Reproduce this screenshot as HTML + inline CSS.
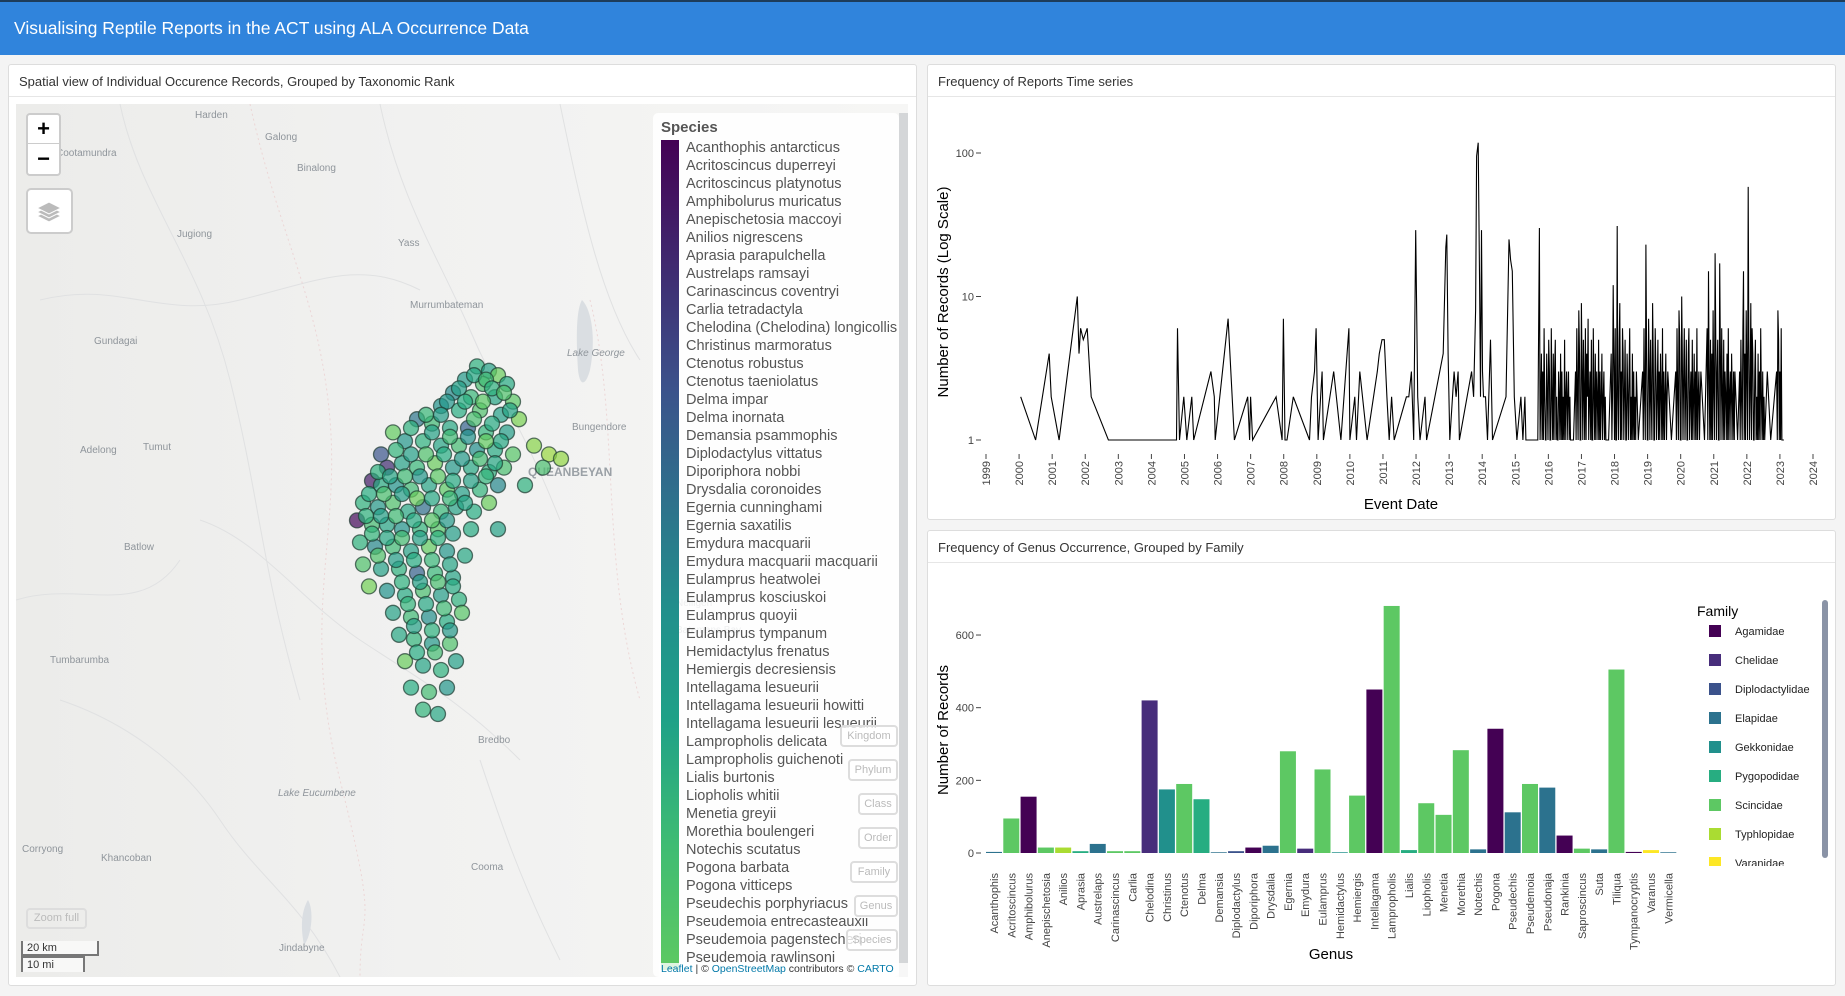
<!DOCTYPE html>
<html><head><meta charset="utf-8">
<style>
*{box-sizing:border-box;margin:0;padding:0}
body{width:1845px;height:996px;background:#f4f4f4;font-family:"Liberation Sans",sans-serif;position:relative;overflow:hidden}
.abs{position:absolute}
.panel{position:absolute;background:#fff;border:1px solid #ddd;border-radius:3px}
.ptitle{position:absolute;left:10px;top:9px;font-size:13px;color:#333}
.pline{position:absolute;left:0;right:0;top:31px;border-top:1px solid #e6e6e6}
.lg-item{position:absolute;left:686px;font-size:14.5px;color:#555;white-space:nowrap}
.rbtn{position:absolute;height:22px;border:2px solid #ddd;border-radius:4px;background:rgba(255,255,255,.8);color:#bbb;font-size:11px;text-align:center;line-height:18px}
</style></head><body>
<div class="abs" style="left:0;top:0;width:1845px;height:55px;background:#3084dc;border-top:2px solid #1d3c5a">
<div class="abs" style="left:14px;top:16px;color:#fff;font-size:17.5px">Visualising Reptile Reports in the ACT using ALA Occurrence Data</div></div>

<div class="panel" style="left:8px;top:64px;width:909px;height:922px">
<div class="ptitle">Spatial view of Individual Occurence Records, Grouped by Taxonomic Rank</div><div class="pline"></div></div>

<svg class="abs" style="left:16px;top:104px" width="892" height="873" viewBox="16 104 892 873">
<defs><linearGradient id="bgg" x1="0" x2="1" y1="0" y2="0"><stop offset="0" stop-color="#ececea"/><stop offset="0.45" stop-color="#f1f1f0"/><stop offset="1" stop-color="#f6f6f5"/></linearGradient></defs>
<rect x="16" y="104" width="892" height="873" fill="url(#bgg)"/>
<g fill="none" stroke="#e0e1e2" stroke-width="1">
<path d="M40 300 C120 280 160 320 240 300 S360 260 420 290"/><path d="M120 104 C140 200 200 260 230 380 S260 560 300 700"/>
<path d="M380 104 C400 200 440 260 470 330 S520 420 560 520"/><path d="M200 520 C260 540 300 600 360 640 S460 700 520 760"/>
<path d="M60 700 C120 720 180 760 220 820 S300 900 340 977"/><path d="M560 104 C580 200 600 300 640 360"/>
<path d="M16 600 C80 580 140 620 180 560"/><path d="M480 760 C500 820 520 880 560 960"/>
</g>
<g fill="none" stroke="#ecd6d6" stroke-width="1" stroke-dasharray="2,3"><path d="M250 104 C280 240 320 300 330 420 S300 620 340 780 S360 900 360 977"/><path d="M590 300 C620 420 600 560 640 700"/></g>
<path d="M582 300 C592 310 596 340 590 370 C586 385 580 388 578 370 C576 340 576 310 582 300Z" fill="#dadee2"/>
<path d="M308 900 C314 910 312 935 304 945 C300 925 302 910 308 900Z" fill="#dadee2"/>
<g font-size="10" fill="#8f959b" font-family="Liberation Sans,sans-serif">
<text x="195" y="118">Harden</text>
<text x="265" y="140">Galong</text><text x="56" y="156">Cootamundra</text><text x="297" y="171">Binalong</text>
<text x="177" y="237">Jugiong</text><text x="398" y="246">Yass</text><text x="410" y="308">Murrumbateman</text>
<text x="94" y="344">Gundagai</text><text x="567" y="356" font-style="italic">Lake George</text><text x="572" y="430">Bungendore</text>
<text x="80" y="453">Adelong</text><text x="143" y="450">Tumut</text><text x="124" y="550">Batlow</text>
<text x="50" y="663">Tumbarumba</text><text x="478" y="743">Bredbo</text><text x="278" y="796" font-style="italic">Lake Eucumbene</text>
<text x="22" y="852">Corryong</text><text x="101" y="861">Khancoban</text><text x="471" y="870">Cooma</text><text x="279" y="951">Jindabyne</text>
<text x="676" y="606">Nelligen</text><text x="676" y="633">Batemans Bay</text>
<text x="528" y="476" font-weight="bold" font-size="12" fill="#9aa0a6">QUEANBEYAN</text></g>
<g id="pts"></g>
</svg>

<div class="abs" style="left:26px;top:113px;width:35px;height:63px;background:#fff;border:2px solid #ccc;border-radius:4px">
<div class="abs" style="left:0;top:0;width:31px;height:29px;border-bottom:1px solid #ccc;text-align:center;font-size:22px;line-height:28px;font-weight:bold;color:#000">+</div>
<div class="abs" style="left:0;top:30px;width:31px;height:29px;text-align:center;font-size:22px;line-height:27px;font-weight:bold;color:#000">−</div></div>
<div class="abs" style="left:26px;top:188px;width:47px;height:46px;background:#fff;border:2px solid #ccc;border-radius:5px">
<svg width="43" height="42"><g fill="#bbb" stroke="#fff" stroke-width="1"><path d="M9 26 L21 32 L33 26 L21 20Z"/><path d="M9 22 L21 28 L33 22 L21 16Z"/><path d="M9 18 L21 24 L33 18 L21 12Z"/></g></svg></div>
<div class="abs" style="left:26px;top:908px;width:61px;height:21px;border:2px solid #ddd;border-radius:4px;color:#bbb;font-size:11px;text-align:center;line-height:17px">Zoom full</div>
<div class="abs" style="left:21px;top:941px;font-size:11px;color:#333">
<div style="width:78px;height:15px;border:2px solid #777;border-top:none;background:rgba(255,255,255,.6);padding-left:4px;line-height:14px">20 km</div>
<div style="width:64px;height:16px;border:2px solid #777;border-bottom:none;background:rgba(255,255,255,.6);padding-left:4px;line-height:15px">10 mi</div></div>

<div class="abs" style="left:653px;top:113px;width:246px;height:864px;background:rgba(255,255,255,.85);border-radius:5px;overflow:hidden"></div>
<div class="abs" style="left:661px;top:119px;font-size:15px;font-weight:bold;color:#555">Species</div>
<div class="abs" style="left:661px;top:140px;width:18px;height:830px;background:linear-gradient(#440154,#3b528b 30%,#21908c 57%,#1fa187 70%,#3fbc73 85%,#5ec962)"></div>
<div id="spl"></div>
<div class="abs" style="left:899px;top:113px;width:9px;height:864px;background:#d4d6d8"></div>
<div id="rank"></div>
<div class="abs" style="left:659px;top:963px;width:249px;height:14px;background:rgba(255,255,255,.8);font-size:10.5px;color:#333;padding-left:2px;white-space:nowrap"><span style="color:#0078a8">Leaflet</span> | © <span style="color:#0078a8">OpenStreetMap</span> contributors © <span style="color:#0078a8">CARTO</span></div>

<div class="panel" style="left:927px;top:64px;width:909px;height:456px">
<div class="ptitle">Frequency of Reports Time series</div><div class="pline"></div></div>
<div class="panel" style="left:927px;top:530px;width:909px;height:456px">
<div class="ptitle">Frequency of Genus Occurrence, Grouped by Family</div><div class="pline"></div></div>

<svg class="abs" style="left:0;top:0" width="1845" height="996" font-family="Liberation Sans,sans-serif">
<g id="ts"></g><g id="bars"></g><g id="leg"></g>
<rect x="1822" y="600" width="6" height="258" rx="3" fill="#8a93a6"/>
</svg>

<script>
// ---- map data ----
const ptLon=[149.18,149.22,149.25,149.14,149.20,149.28,149.10,149.16,149.24,149.30,149.06,149.12,149.19,149.26,149.32,148.98,149.03,149.09,149.15,149.21,149.28,148.90,148.94,149.00,149.06,149.12,149.18,149.24,149.30,148.86,148.88,148.93,148.98,149.04,149.10,149.16,149.22,149.27,148.83,148.86,148.91,148.96,149.02,149.08,149.13,149.19,149.25,148.80,148.85,148.90,148.95,149.00,149.06,149.11,149.17,149.22,148.78,148.83,148.88,148.93,148.99,149.05,149.10,149.16,148.79,148.84,148.90,148.96,149.02,149.08,149.14,148.80,148.86,148.92,148.98,149.04,149.10,148.82,148.88,148.94,149.00,149.06,149.12,148.90,148.96,149.02,149.08,149.13,148.92,148.97,149.03,149.09,148.94,149.00,149.06,149.11,148.96,149.02,149.08,149.00,149.05,149.37,149.42,149.46,149.40,149.34,149.25,
149.17,149.21,149.12,149.23,149.27,149.08,149.14,149.20,149.29,149.01,149.06,149.17,149.23,148.96,149.03,149.09,149.15,149.21,149.26,148.91,148.96,149.01,149.07,149.13,149.19,149.24,148.85,148.89,148.94,148.99,149.05,149.10,149.16,149.21,148.82,148.87,148.93,148.98,149.03,149.09,149.14,148.81,148.86,148.91,148.97,149.03,149.08,148.83,148.88,148.93,148.99,149.05,148.85,148.91,148.97,149.03,149.09,148.93,148.99,149.05,149.10,148.95,149.01,149.07,148.97,149.03,149.09,148.98,149.04];
const ptLat=[-35.13,-35.14,-35.15,-35.16,-35.17,-35.17,-35.19,-35.20,-35.20,-35.21,-35.22,-35.23,-35.23,-35.24,-35.25,-35.25,-35.26,-35.27,-35.27,-35.28,-35.28,-35.28,-35.30,-35.30,-35.31,-35.31,-35.32,-35.32,-35.33,-35.33,-35.36,-35.35,-35.36,-35.35,-35.36,-35.36,-35.37,-35.36,-35.39,-35.40,-35.40,-35.41,-35.40,-35.41,-35.42,-35.41,-35.40,-35.44,-35.45,-35.44,-35.46,-35.45,-35.46,-35.45,-35.46,-35.44,-35.48,-35.49,-35.49,-35.50,-35.50,-35.50,-35.51,-35.50,-35.53,-35.54,-35.54,-35.55,-35.54,-35.55,-35.56,-35.58,-35.59,-35.59,-35.60,-35.60,-35.61,-35.63,-35.64,-35.65,-35.64,-35.65,-35.66,-35.69,-35.70,-35.70,-35.71,-35.69,-35.74,-35.75,-35.76,-35.76,-35.80,-35.81,-35.82,-35.80,-35.86,-35.87,-35.86,-35.91,-35.92,-35.31,-35.33,-35.34,-35.36,-35.40,-35.50,
-35.15,-35.16,-35.18,-35.18,-35.19,-35.21,-35.21,-35.21,-35.23,-35.24,-35.24,-35.25,-35.26,-35.27,-35.28,-35.29,-35.29,-35.30,-35.30,-35.32,-35.33,-35.33,-35.33,-35.34,-35.34,-35.35,-35.37,-35.38,-35.38,-35.38,-35.38,-35.39,-35.39,-35.38,-35.42,-35.42,-35.42,-35.43,-35.43,-35.43,-35.44,-35.47,-35.47,-35.47,-35.48,-35.48,-35.48,-35.51,-35.52,-35.52,-35.52,-35.52,-35.56,-35.57,-35.57,-35.57,-35.58,-35.62,-35.62,-35.62,-35.63,-35.67,-35.67,-35.68,-35.72,-35.73,-35.73,-35.78,-35.78];
const ptSp=[30,25,40,22,35,28,18,32,26,38,20,29,36,24,42,15,33,27,12,31,23,39,21,30,26,34,19,28,37,10,5,25,32,40,22,27,30,35,3,28,20,33,26,38,24,31,18,30,22,36,27,14,32,25,29,40,1,34,26,20,31,37,23,28,30,18,33,25,39,21,27,36,24,30,12,32,26,41,20,28,35,23,30,25,33,19,29,37,27,31,22,36,40,26,30,24,29,34,21,31,27,44,46,45,35,30,25,
27,33,24,30,36,21,29,38,26,32,23,35,28,30,25,33,20,39,27,31,24,36,29,22,34,27,30,26,33,21,38,28,25,31,29,35,23,40,27,32,26,30,24,33,28,37,22,31,27,34,25,30,36,23,29,32,26,30,24,35,28,31,27,33,25,30,22,29,34];
const speciesNames=["Acanthophis antarcticus","Acritoscincus duperreyi","Acritoscincus platynotus","Amphibolurus muricatus","Anepischetosia maccoyi","Anilios nigrescens","Aprasia parapulchella","Austrelaps ramsayi","Carinascincus coventryi","Carlia tetradactyla","Chelodina (Chelodina) longicollis","Christinus marmoratus","Ctenotus robustus","Ctenotus taeniolatus","Delma impar","Delma inornata","Demansia psammophis","Diplodactylus vittatus","Diporiphora nobbi","Drysdalia coronoides","Egernia cunninghami","Egernia saxatilis","Emydura macquarii","Emydura macquarii macquarii","Eulamprus heatwolei","Eulamprus kosciuskoi","Eulamprus quoyii","Eulamprus tympanum","Hemidactylus frenatus","Hemiergis decresiensis","Intellagama lesueurii","Intellagama lesueurii howitti","Intellagama lesueurii lesueurii","Lampropholis delicata","Lampropholis guichenoti","Lialis burtonis","Liopholis whitii","Menetia greyii","Morethia boulengeri","Notechis scutatus","Pogona barbata","Pogona vitticeps","Pseudechis porphyriacus","Pseudemoia entrecasteauxii","Pseudemoia pagenstecheri","Pseudemoia rawlinsoni"];
const rankButtons=["Kingdom","Phylum","Class","Order","Family","Genus","Species"];

// ---- time series data ----
const tsDates=[2000.05,2000.50,2000.91,2000.97,2001.21,2001.76,2001.81,2001.86,2001.94,2002.06,2002.18,2002.70,2004.76,2004.79,2004.85,2004.98,2005.07,2005.22,2005.28,2005.80,2005.90,2005.93,2006.32,2006.51,2006.91,2006.97,2007.00,2007.06,2007.77,2007.95,2007.99,2008.04,2008.10,2008.29,2008.78,2008.84,2008.93,2008.98,2009.04,2009.16,2009.20,2009.51,2009.73,2009.97,2010.00,2010.15,2010.20,2010.30,2010.52,2010.83,2010.89,2010.97,2011.04,2011.12,2011.19,2011.26,2011.34,2011.71,2011.78,2011.86,2011.93,2011.99,2012.05,2012.12,2012.27,2012.32,2012.82,2012.90,2012.93,2012.97,2013.02,2013.15,2013.21,2013.27,2013.31,2013.68,2013.74,2013.80,2013.83,2013.88,2013.92,2013.95,2013.98,2014.01,2014.04,2014.10,2014.16,2014.25,2014.31,2014.72,2014.81,2014.86,2014.91,2014.97,2015.05,2015.17,2015.23,2015.29,2015.32,2015.68,
2015.73,2015.75,2015.77,2015.79,2015.81,2015.83,2015.85,2015.87,2015.89,2015.91,2015.93,2015.95,2015.97,2015.99,2016.01,2016.03,2016.05,2016.07,2016.09,2016.11,2016.13,2016.15,2016.17,2016.19,2016.21,2016.23,2016.25,2016.27,2016.29,2016.31,2016.33,2016.35,2016.37,2016.39,2016.41,2016.43,2016.45,2016.47,2016.49,2016.51,2016.53,2016.55,2016.57,2016.59,2016.61,2016.63,2016.65,2016.67,2016.70,2016.76,
2016.82,2016.84,2016.86,2016.88,2016.90,2016.92,2016.94,2016.96,2016.98,2017.00,2017.02,2017.04,2017.06,2017.08,2017.10,2017.12,2017.14,2017.16,2017.18,2017.20,2017.22,2017.24,2017.26,2017.28,2017.30,2017.32,2017.34,2017.36,2017.38,2017.40,2017.42,2017.44,2017.46,2017.48,2017.50,2017.52,2017.54,2017.56,2017.58,2017.60,2017.62,2017.64,2017.66,2017.68,2017.70,2017.72,2017.74,2017.82,
2017.90,2017.92,2017.94,2017.96,2017.98,2018.00,2018.02,2018.04,2018.06,2018.08,2018.10,2018.12,2018.14,2018.16,2018.18,2018.20,2018.22,2018.24,2018.26,2018.28,2018.30,2018.32,2018.34,2018.36,2018.38,2018.40,2018.42,2018.44,2018.46,2018.48,2018.50,2018.52,2018.54,2018.56,2018.58,2018.60,2018.62,2018.64,2018.66,2018.72,
2018.85,2018.87,2018.89,2018.91,2018.93,2018.95,2018.97,2018.99,2019.01,2019.03,2019.05,2019.07,2019.09,2019.11,2019.13,2019.15,2019.17,2019.19,2019.21,2019.23,2019.25,2019.27,2019.29,2019.31,2019.33,2019.35,2019.37,2019.39,2019.41,2019.43,2019.45,2019.47,2019.49,2019.51,2019.53,2019.55,2019.57,2019.59,2019.61,2019.72,
2019.85,2019.87,2019.89,2019.91,2019.93,2019.95,2019.97,2019.99,2020.01,2020.03,2020.05,2020.07,2020.09,2020.11,2020.13,2020.15,2020.17,2020.19,2020.21,2020.23,2020.25,2020.27,2020.29,2020.31,2020.33,2020.35,2020.37,2020.39,2020.41,2020.43,2020.45,2020.47,2020.49,2020.51,2020.53,2020.55,2020.57,2020.59,2020.61,2020.72,
2020.80,2020.82,2020.84,2020.86,2020.88,2020.90,2020.92,2020.94,2020.96,2020.98,2021.00,2021.02,2021.04,2021.06,2021.08,2021.10,2021.12,2021.14,2021.16,2021.18,2021.20,2021.22,2021.24,2021.26,2021.28,2021.30,2021.32,2021.34,2021.36,2021.38,2021.40,2021.42,2021.44,2021.46,2021.48,2021.50,2021.52,2021.54,2021.56,2021.58,2021.60,2021.62,2021.64,2021.72,
2021.78,2021.80,2021.82,2021.84,2021.86,2021.88,2021.90,2021.92,2021.94,2021.96,2021.98,2022.00,2022.02,2022.04,2022.06,2022.08,2022.10,2022.12,2022.14,2022.16,2022.18,2022.20,2022.22,2022.24,2022.26,2022.28,2022.30,2022.32,2022.34,2022.36,2022.38,2022.40,2022.42,2022.44,2022.46,2022.48,2022.50,2022.52,2022.54,2022.62,2022.72,
2022.90,2022.92,2022.94,2022.96,2022.98,2023.00,2023.02,2023.04,2023.06,2023.12];
const tsCounts=[2,1,4,2,1,10,4,6,5,6,2,1,1,6,1,2,1,2,1,3,2,1,7,1,2,1,2,1,2,1,7,1,1,2,1,2,3,6,1,3,1,3,1,6,1,2,1,3,1,3,4,5,5,2,1,2,1,2,2,3,1,29,2,1,2,1,4,22,27,4,1,3,2,3,1,3,2,8,95,118,12,2,29,3,2,2,1,5,1,2,25,18,15,2,1,2,1,2,1,1,
30,1,2,4,1,3,1,6,2,1,1,4,2,1,5,3,1,1,6,2,1,4,1,3,5,1,2,1,1,3,2,1,4,1,3,1,2,1,5,1,2,3,1,2,3,1,2,1,1,1,
3,1,6,2,1,8,4,1,1,9,3,1,5,2,1,6,1,4,2,7,1,2,3,1,5,1,1,6,2,1,4,1,3,2,1,5,1,3,1,2,4,1,2,3,1,2,1,1,
4,1,2,12,3,1,6,1,1,31,2,1,5,9,1,3,1,6,4,1,2,5,1,1,4,2,1,3,6,1,2,1,4,1,3,1,2,1,3,1,
3,1,6,2,1,23,4,1,1,7,3,1,5,2,1,9,4,1,1,6,3,1,2,5,1,3,1,4,2,1,6,1,3,1,2,4,1,2,3,1,
3,1,6,2,1,8,5,1,1,10,4,1,3,6,1,2,5,1,1,4,6,1,2,3,1,5,1,2,4,1,3,1,6,1,2,3,1,2,3,1,
6,1,15,3,1,5,1,4,1,8,2,1,20,6,1,3,5,1,1,17,4,1,6,2,1,5,1,3,2,1,4,1,6,1,2,3,1,4,2,1,3,1,3,1,
3,1,5,2,1,6,15,1,4,1,8,3,1,58,5,1,2,9,1,6,4,1,1,3,5,1,2,1,4,1,3,1,6,2,1,3,1,2,1,3,1,
3,1,8,5,1,3,1,6,1,1];
const tsYearTicks=[1999,2000,2001,2002,2003,2004,2005,2006,2007,2008,2009,2010,2011,2012,2013,2014,2015,2016,2017,2018,2019,2020,2021,2022,2023,2024];
const tsLogTicks=[1,10,100];

// ---- genus bar data ----
const genera=["Acanthophis","Acritoscincus","Amphibolurus","Anepischetosia","Anilios","Aprasia","Austrelaps","Carinascincus","Carlia","Chelodina","Christinus","Ctenotus","Delma","Demansia","Diplodactylus","Diporiphora","Drysdalia","Egernia","Emydura","Eulamprus","Hemidactylus","Hemiergis","Intellagama","Lampropholis","Lialis","Liopholis","Menetia","Morethia","Notechis","Pogona","Pseudechis","Pseudemoia","Pseudonaja","Rankinia","Saproscincus","Suta","Tiliqua","Tympanocryptis","Varanus","Vermicella"];
const genusCounts=[3,95,155,15,15,5,25,5,5,420,175,190,148,2,5,15,20,280,12,230,2,158,450,680,8,137,105,283,10,342,112,190,180,48,12,10,505,3,8,2];
const genusFamily=[3,6,0,6,7,5,3,6,6,1,4,6,5,3,2,0,3,6,1,6,4,6,0,6,5,6,6,6,3,0,3,6,3,0,6,3,6,0,8,3];
const families=["Agamidae","Chelidae","Diplodactylidae","Elapidae","Gekkonidae","Pygopodidae","Scincidae","Typhlopidae","Varanidae"];
const familyColors=["#440154","#472D7B","#3B528B","#2C728E","#21908C","#27AD81","#5DC863","#AADC32","#FDE725"];
const barTicks=[0,200,400,600];

const NS="http://www.w3.org/2000/svg";
function mk(tag,attrs,parent){const e=document.createElementNS(NS,tag);for(const k in attrs)e.setAttribute(k,attrs[k]);parent.appendChild(e);return e;}
const vir=[[68,1,84],[59,82,139],[33,145,140],[39,173,129],[94,201,98],[170,220,50],[253,231,37]];
function viridis(t){t=Math.max(0,Math.min(1,t))*(vir.length-1);const i=Math.min(vir.length-2,Math.floor(t)),f=t-i;const c=vir[i].map((v,k)=>Math.round(v+(vir[i+1][k]-v)*f));return `rgb(${c})`;}

// map points
const mx=lon=>351+(lon-148.76)*300, my=lat=>362+(-35.12-lat)*440;
const pg=document.getElementById('pts');
ptLon.forEach((lon,i)=>{const c=viridis(ptSp[i]/58);
const p=mk('circle',{cx:mx(lon),cy:my(ptLat[i]),r:7.5,fill:c,'fill-opacity':0.7,stroke:'#1e3a30','stroke-opacity':0.7,'stroke-width':1.3},pg);

});

// species legend list
const spl=document.getElementById('spl');
speciesNames.forEach((n,i)=>{const d=document.createElement('div');d.className='lg-item';d.style.top=(140+i*18)+'px';d.textContent=n;


if(140+i*18>960){d.style.height='14px';d.style.overflow='hidden';}
spl.appendChild(d);});
const rk=document.getElementById('rank');const rkW=[58,50,40,40,48,44,52];
rankButtons.forEach((n,i)=>{const d=document.createElement('div');d.className='rbtn';d.style.left=(898-rkW[i])+'px';d.style.width=rkW[i]+'px';d.style.top=(725+i*34)+'px';d.textContent=n;


rk.appendChild(d);});

// time series
const ts=document.getElementById('ts');
const tx=y=>986+(y-1999)*33.08, ty=v=>440-Math.log10(v)*143.5;
tsLogTicks.forEach(v=>{const t=mk('text',{x:974,y:ty(v)+4,'font-size':11,'text-anchor':'end',fill:'#444'},ts);t.textContent=v;


mk('line',{x1:976,x2:981,y1:ty(v),y2:ty(v),stroke:'#444'},ts);});
tsYearTicks.forEach(y=>{const t=mk('text',{x:0,y:0,'font-size':11,'text-anchor':'end',fill:'#444',transform:`translate(${tx(y)+4},461) rotate(-90)`},ts);t.textContent=y;


mk('line',{x1:tx(y),x2:tx(y),y1:454,y2:459,stroke:'#444'},ts);});
const ln=mk('polyline',{points:tsDates.map((d,i)=>tx(d).toFixed(1)+','+ty(tsCounts[i]).toFixed(1)).join(' '),fill:'none',stroke:'#000','stroke-width':1.1},ts);


let t1=mk('text',{x:1401,y:509,'font-size':15,'text-anchor':'middle',fill:'#000'},ts);t1.textContent='Event Date';


let t2=mk('text',{x:0,y:0,'font-size':15,'text-anchor':'middle',fill:'#000',transform:'translate(948,292) rotate(-90)'},ts);t2.textContent='Number of Records (Log Scale)';



// bars
const bg=document.getElementById('bars');
const bx=i=>994+i*17.29, by=v=>853-v*0.3633;
barTicks.forEach(v=>{const t=mk('text',{x:974,y:by(v)+4,'font-size':11,'text-anchor':'end',fill:'#444'},bg);t.textContent=v;


mk('line',{x1:976,x2:981,y1:by(v),y2:by(v),stroke:'#444'},bg);});
genera.forEach((g,i)=>{const r=mk('rect',{x:bx(i)-8,y:by(genusCounts[i]),width:16,height:genusCounts[i]*0.3633,fill:familyColors[genusFamily[i]]},bg);


const t=mk('text',{x:0,y:0,'font-size':11,'text-anchor':'end',fill:'#444',transform:`translate(${bx(i)+4},873) rotate(-90)`},bg);t.textContent=g;

});
let t3=mk('text',{x:1331,y:959,'font-size':15,'text-anchor':'middle',fill:'#000'},bg);t3.textContent='Genus';


let t4=mk('text',{x:0,y:0,'font-size':15,'text-anchor':'middle',fill:'#000',transform:'translate(948,730) rotate(-90)'},bg);t4.textContent='Number of Records';



// family legend
const lg=document.getElementById('leg');
let t5=mk('text',{x:1697,y:616,'font-size':14,fill:'#000'},lg);t5.textContent='Family';


families.forEach((f,i)=>{const y=631+i*29;if(y>870)return;
const s=mk('rect',{x:1709,y:y-6,width:12,height:12,fill:familyColors[i]},lg);


const t=mk('text',{x:1735,y:y+4,'font-size':11,fill:'#222'},lg);t.textContent=f;

});
mk('rect',{x:1690,y:866,width:130,height:14,fill:'#fff'},lg);
</script>
</body></html>
